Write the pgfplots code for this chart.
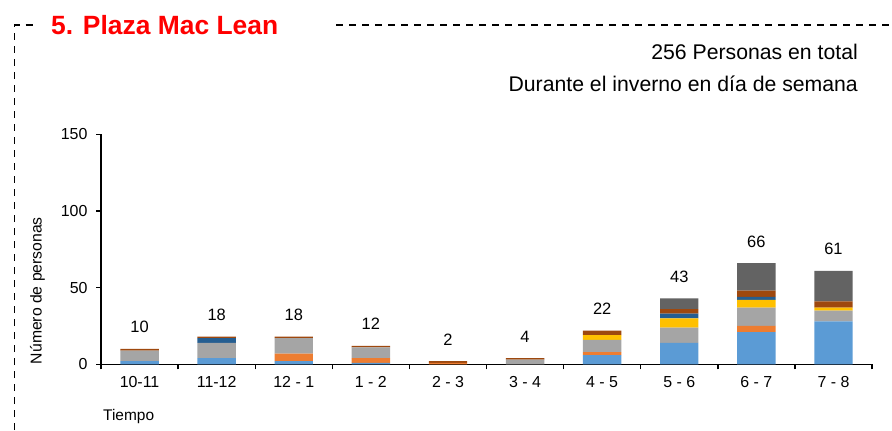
\documentclass[border=0pt]{standalone}
\usepackage{pgfplots}
\pgfplotsset{compat=1.18}
\usepackage{fontspec}
\setmainfont{Liberation Sans}
\definecolor{cBlue}{HTML}{5B9BD5}
\definecolor{cOrange}{HTML}{ED7D31}
\definecolor{cGray}{HTML}{A5A5A5}
\definecolor{cYellow}{HTML}{FFC000}
\definecolor{cDBlue}{HTML}{255E91}
\definecolor{cBrown}{HTML}{9E480E}
\definecolor{cDGray}{HTML}{636363}
\begin{document}
\begin{tikzpicture}[x=1bp,y=1bp]
\useasboundingbox (0,0) rectangle (892,430);
\draw[line width=1.4bp, dash pattern=on 7bp off 6bp] (14.5,0) -- (14.5,405) -- (36,405);
\draw[line width=1.4bp, dash pattern=on 7bp off 6bp] (336,405) -- (892,405);
\node[anchor=base west, text=red, font=\bfseries\fontsize{26.5}{30}\selectfont, inner sep=0pt] at (51,395) {5. Plaza Mac Lean};
\node[anchor=base east, font=\fontsize{21.3}{25}\selectfont, inner sep=0pt] at (858,371) {256 Personas en total};
\node[anchor=base east, font=\fontsize{21.3}{25}\selectfont, inner sep=0pt] at (858,339) {Durante el inverno en día de semana};
\node[rotate=90, anchor=base west, inner sep=0pt, font=\fontsize{15.8}{18}\selectfont] at (41.5,65.7) {Número de personas};
\node[anchor=base west, inner sep=0pt, font=\fontsize{15.5}{18}\selectfont] at (103,10) {Tiempo};
\begin{axis}[
  at={(101bp,65.7bp)}, anchor=south west,
  scale only axis, width=771bp, height=229.9bp,
  ybar stacked, bar width=38.4bp,
  xmin=-0.5, xmax=9.5, ymin=0, ymax=150,
  axis lines*=left,
  axis line style={-, line width=1.5bp, black},
  xtick={0,...,9},
  xticklabels={10-11,11-12,12 - 1,1 - 2,2 - 3,3 - 4,4 - 5,5 - 6,6 - 7,7 - 8},
  minor xtick={-0.5,0.5,...,9.5},
  major x tick style={draw=none},
  minor x tick style={black, line width=1.4bp},
  y tick style={black, line width=1.4bp},
  minor tick length=5bp, major tick length=5bp,
  tick align=outside,
  ytick={0,50,100,150},
  /pgf/number format/assume math mode=true,
  ticklabel style={font=\fontsize{16}{19}\selectfont},
  yticklabel style={xshift=-5bp},
  xticklabel style={yshift=-4bp},
  every axis plot/.append style={draw=none},
  clip=false,
]
\addplot[fill=cBlue] coordinates {(0,2) (1,4) (2,2) (3,1) (4,0) (5,0) (6,6) (7,14) (8,21) (9,28)};
\addplot[fill=cOrange] coordinates {(0,0) (1,0) (2,5) (3,3) (4,1) (5,0) (6,2) (7,0) (8,4) (9,0)};
\addplot[fill=cGray] coordinates {(0,7) (1,10) (2,10) (3,7) (4,0) (5,3) (6,8) (7,10) (8,12) (9,7)};
\addplot[fill=cYellow] coordinates {(0,0) (1,0) (2,0) (3,0) (4,0) (5,0) (6,3) (7,6) (8,5) (9,2)};
\addplot[fill=cDBlue] coordinates {(0,0) (1,3) (2,0) (3,0) (4,0) (5,0) (6,0) (7,3) (8,2) (9,0)};
\addplot[fill=cBrown] coordinates {(0,1) (1,1) (2,1) (3,1) (4,1) (5,1) (6,3) (7,3) (8,4) (9,4)};
\addplot[fill=cDGray] coordinates {(0,0) (1,0) (2,0) (3,0) (4,0) (5,0) (6,0) (7,7) (8,18) (9,20)};
\end{axis}
\begin{axis}[
  at={(101bp,65.7bp)}, anchor=south west,
  scale only axis, width=771bp, height=229.9bp,
  xmin=-0.5, xmax=9.5, ymin=0, ymax=150,
  hide axis, clip=false,
]
\addplot[draw=none, mark=none, point meta=explicit symbolic,
  nodes near coords,
  every node near coord/.append style={text=black, font=\fontsize{16.5}{19}\selectfont, anchor=base, yshift=16bp, inner sep=0pt}]
  coordinates {(0,10) [10] (1,18) [18] (2,18) [18] (3,12) [12] (4,2) [2] (5,4) [4] (6,22) [22] (7,43) [43] (8,66) [66] (9,61) [61]};
\end{axis}
\end{tikzpicture}
\end{document}
